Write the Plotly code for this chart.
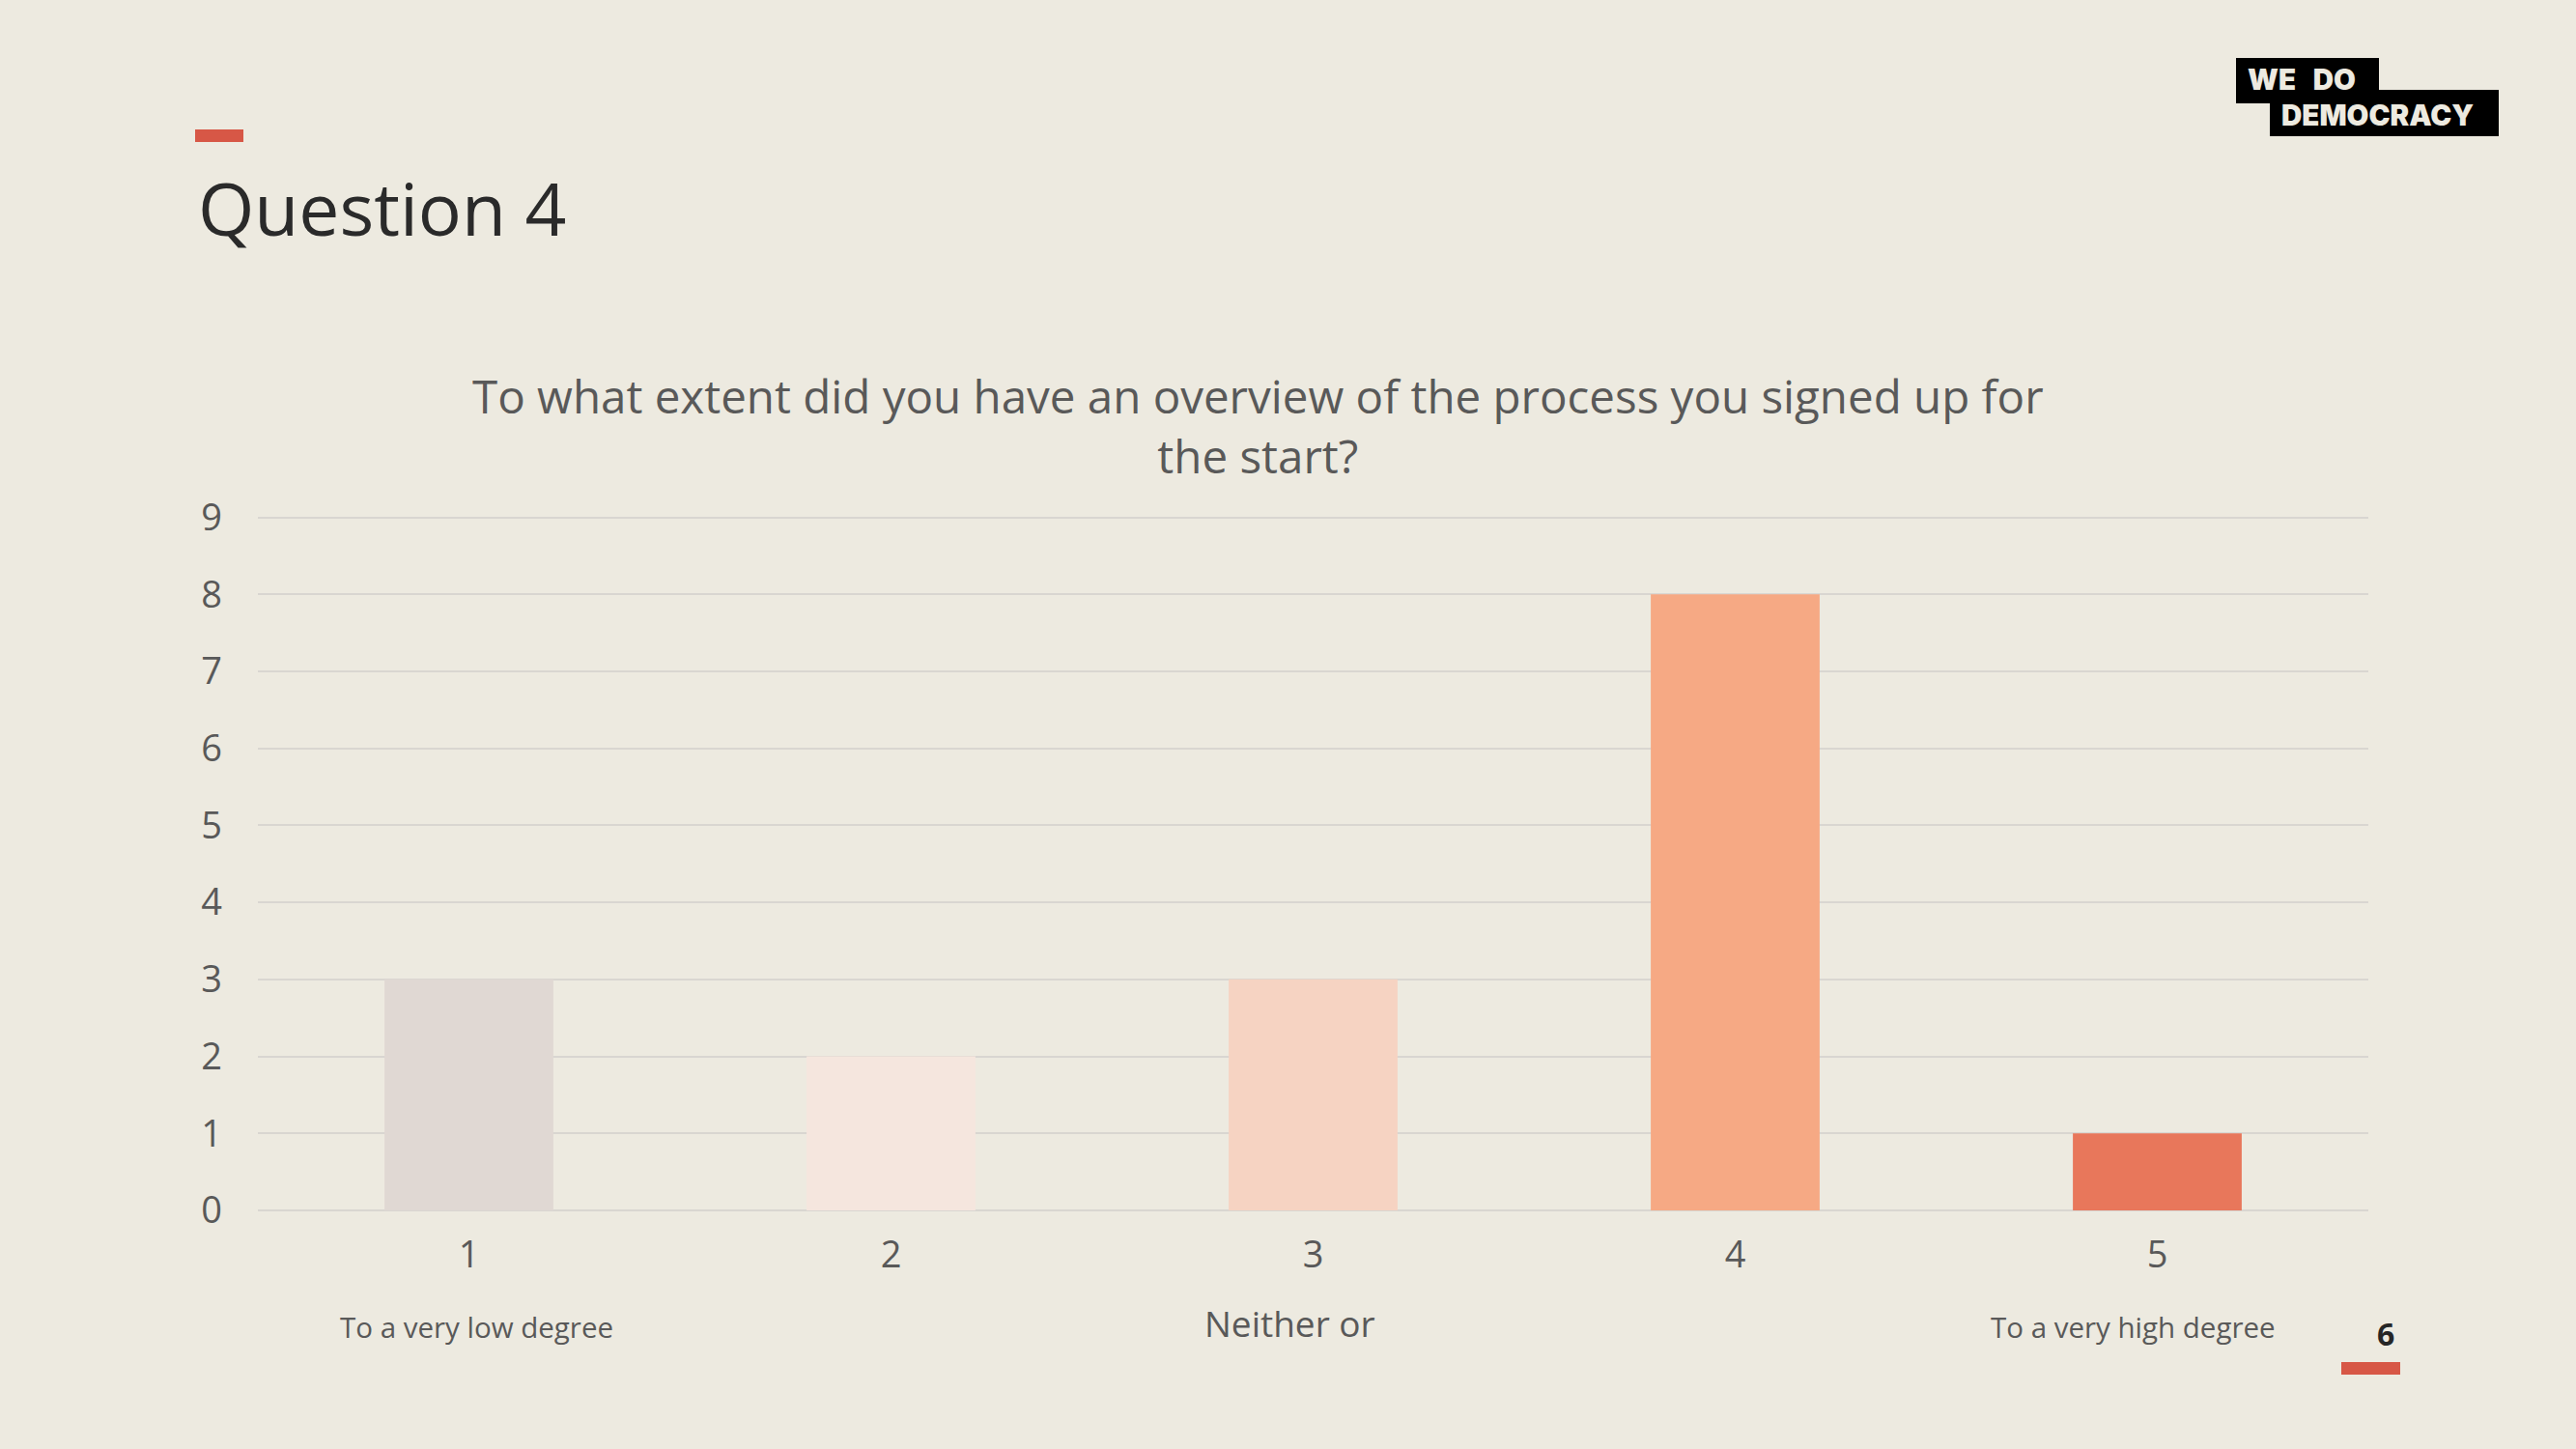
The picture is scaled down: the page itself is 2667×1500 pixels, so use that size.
import plotly.graph_objects as go

# ---- data ----
categories = ["1", "2", "3", "4", "5"]
counts = [3, 2, 3, 8, 1]
bar_colors = ["#E0D8D3", "#F5E6DE", "#F6D3C2", "#F6A984", "#E8775B"]
y_ticks = [0, 1, 2, 3, 4, 5, 6, 7, 8, 9]
y_max = 9.02
scale_labels = ["To a very low degree", "Neither or", "To a very high degree"]
page_title = "Question 4"
chart_title = "To what extent did you have an overview of the process you signed up for<br>the start?"
page_number = "6"
logo_lines = ["WE   DO", "DEMOCRACY"]

W, H = 2667, 1500
L, R, T, B = 267, 2452, 534, 1253  # plot area in pixels
BG = "#EDEAE0"
ACCENT = "#D75746"
GRAY = "#595959"
FONT = "Open Sans"


def px_x(px):
    return (px - L) / (R - L)


def px_y(py):
    return (B - py) / (B - T)


fig = go.Figure(
    go.Bar(
        x=categories,
        y=counts,
        marker=dict(color=bar_colors, line=dict(width=0)),
        width=0.4,
        hoverinfo="x+y",
    )
)

fig.update_layout(
    width=W,
    height=H,
    paper_bgcolor=BG,
    plot_bgcolor=BG,
    margin=dict(l=L, r=W - R, t=T, b=H - B, pad=0),
    showlegend=False,
    font=dict(family=FONT, color=GRAY),
)

fig.update_yaxes(
    range=[0, y_max],
    tickvals=y_ticks,
    showgrid=True,
    gridcolor="#D9D6D1",
    gridwidth=2,
    zeroline=True,
    zerolinecolor="#D9D6D1",
    zerolinewidth=2,
    tickfont=dict(family=FONT, size=38, color=GRAY),
    ticks="",
    ticklabelstandoff=36,
    fixedrange=True,
)
fig.update_xaxes(
    type="category",
    showgrid=False,
    showline=False,
    ticks="",
    tickfont=dict(family=FONT, size=38, color=GRAY),
    ticklabelstandoff=20,
    fixedrange=True,
)

annotations = []
# page title
annotations.append(dict(
    text=page_title, xref="paper", yref="paper",
    x=px_x(203), y=px_y(215), xanchor="left", yanchor="middle",
    showarrow=False, font=dict(family=FONT, size=75, color="#2A2A2A"),
))
# chart title
annotations.append(dict(
    text=chart_title, xref="paper", yref="paper",
    x=px_x(1302), y=px_y(441), xanchor="center", yanchor="middle",
    showarrow=False, align="center",
    font=dict(family=FONT, size=47.5, color=GRAY),
))
# scale labels
scale_pos = [(493, 1373, 29.5), (1335, 1369, 37), (2208, 1373, 29.5)]
for txt, (sx, sy, fs) in zip(scale_labels, scale_pos):
    annotations.append(dict(
        text=txt, xref="paper", yref="paper",
        x=px_x(sx), y=px_y(sy), xanchor="center", yanchor="middle",
        showarrow=False, font=dict(family=FONT, size=fs, color=GRAY),
    ))
# page number
annotations.append(dict(
    text="<b>" + page_number + "</b>", xref="paper", yref="paper",
    x=px_x(2470), y=px_y(1380), xanchor="center", yanchor="middle",
    showarrow=False, font=dict(family=FONT, size=32, color="#262626"),
))
# logo text
logo_pos = [(2325, 82), (2360, 119)]
for txt, (lx, ly) in zip(logo_lines, logo_pos):
    annotations.append(dict(
        text=txt, xref="paper", yref="paper",
        x=px_x(lx), y=px_y(ly), xanchor="left", yanchor="middle",
        showarrow=False, font=dict(family="Inter", size=29.5, weight=900, color=BG),
    ))

shapes = []


def rect(x0, y0, x1, y1, color):
    return dict(type="rect", xref="paper", yref="paper",
                x0=px_x(x0), x1=px_x(x1), y0=px_y(y0), y1=px_y(y1),
                fillcolor=color, line=dict(width=0), layer="below")


shapes.append(rect(202, 134, 252, 147, ACCENT))
shapes.append(rect(2424, 1410, 2485, 1423, ACCENT))
shapes.append(rect(2315, 60, 2463, 107, "#000000"))
shapes.append(rect(2350, 93, 2587, 141, "#000000"))

fig.update_layout(annotations=annotations, shapes=shapes)

fig.write_html(
    "out.html",
    config={"displayModeBar": False},
    post_script="document.body.style.margin='0';document.body.style.background='" + BG + "';",
)
